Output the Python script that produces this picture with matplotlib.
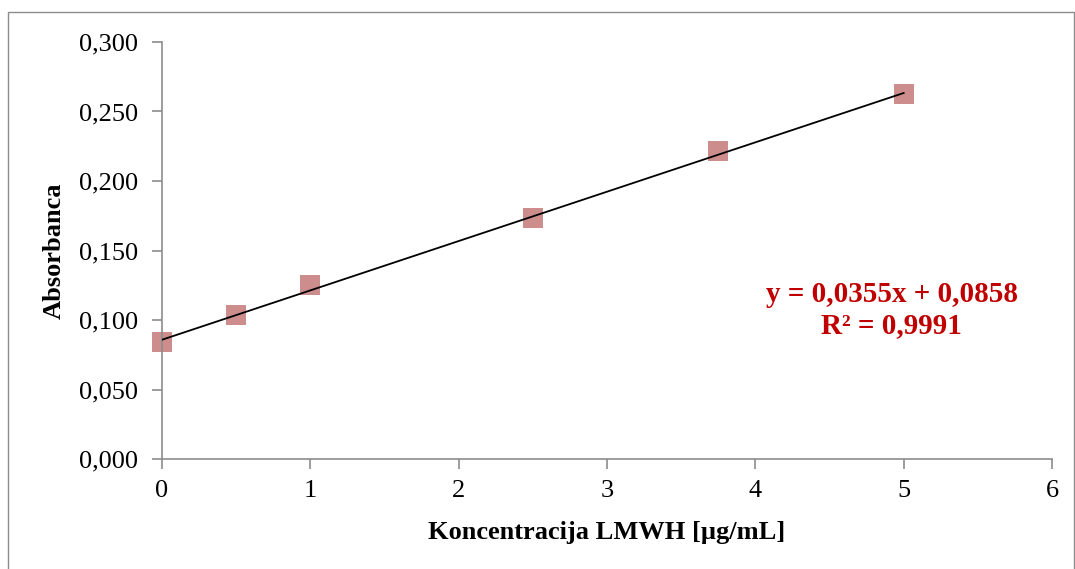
import numpy as np
import matplotlib
matplotlib.use('Agg')
import matplotlib.pyplot as plt
from matplotlib.patches import Rectangle

plt.rcParams['font.family'] = ['Liberation Serif', 'DejaVu Serif']

# data
konc = [0, 0.5, 1, 2.5, 3.75, 5]
absorb = [0.0842, 0.1036, 0.1250, 0.1733, 0.2216, 0.2626]
slope = 0.0355
intercept = 0.0858
r2 = 0.9991
xticks = [0, 1, 2, 3, 4, 5, 6]
yticks = [0.0, 0.05, 0.10, 0.15, 0.20, 0.25, 0.30]

fig = plt.figure(figsize=(10.75, 5.69), dpi=100)
ax = fig.add_axes([0.1507, 0.1933, 0.8279, 0.7329])

# outer border like the excel chart area
fig.patches.append(Rectangle((8 / 1075, -0.01), 1066 / 1075, 1 - 12 / 569 + 0.01,
                             transform=fig.transFigure, fill=False,
                             edgecolor='#8c8c8c', linewidth=1.0))

ax.plot(konc, absorb, 's', color='#CD8D8D', markersize=15, markeredgewidth=0,
        zorder=2, clip_on=False)
xf = np.array([min(konc), max(konc)])
ax.plot(xf, slope * xf + intercept, color='black', linewidth=1.3, zorder=3)

ax.set_xlim(0, 6)
ax.set_ylim(0, 0.3)
ax.set_xticks(xticks)
ax.set_yticks(yticks)
ax.set_xticklabels([str(t) for t in xticks])
ax.set_yticklabels([f'{t:.3f}'.replace('.', ',') for t in yticks])

for s in ['top', 'right']:
    ax.spines[s].set_visible(False)
for s in ['left', 'bottom']:
    ax.spines[s].set_color('#8c8c8c')
    ax.spines[s].set_linewidth(1.2)
ax.tick_params(axis='both', direction='out', length=7, width=1.2, color='#8c8c8c',
               labelsize=19, labelcolor='black')
ax.tick_params(axis='y', pad=10)
ax.tick_params(axis='x', pad=8)

ax.set_xlabel('Koncentracija LMWH [µg/mL]', fontsize=19, fontweight='bold', labelpad=14)
ax.set_ylabel('Absorbanca', fontsize=19, fontweight='bold', labelpad=10)

eq = f'y = {slope:.4f}x + {intercept:.4f}'.replace('.', ',') + '\n' + f'R² = {r2:.4f}'.replace('.', ',')
ax.text(4.92, 0.107, eq, ha='center', va='center', fontsize=21, fontweight='bold',
        color='#C00000', linespacing=1.2)

fig.savefig('out.png', dpi=100)
